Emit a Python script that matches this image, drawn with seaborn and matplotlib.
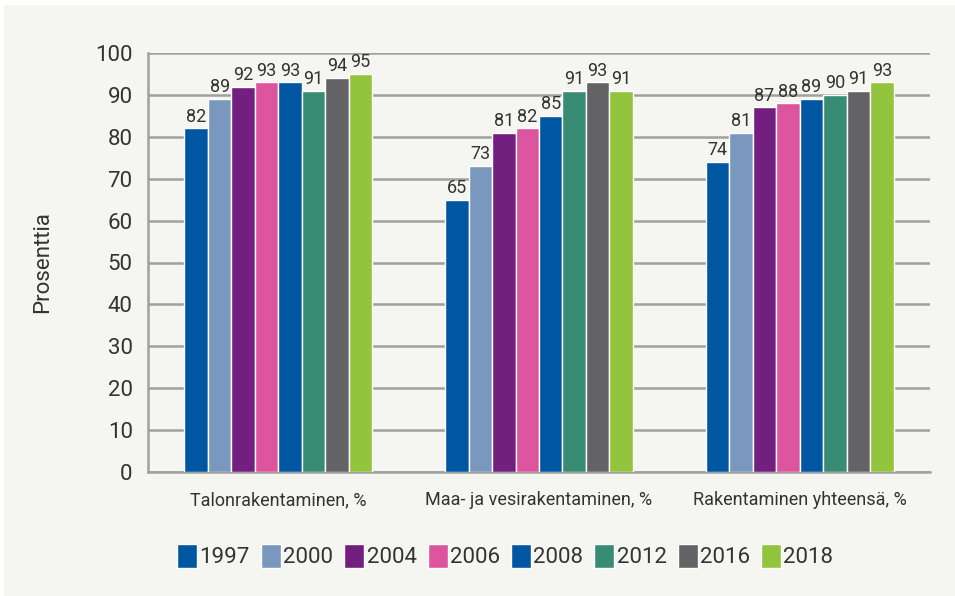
import numpy as np
import pandas as pd
import matplotlib
matplotlib.use("Agg")
import matplotlib.pyplot as plt
import seaborn as sns
from matplotlib.patches import Rectangle

# data
categories = ["Talonrakentaminen, %", "Maa- ja vesirakentaminen, %", "Rakentaminen yhteensä, %"]
years = ["1997", "2000", "2004", "2006", "2008", "2012", "2016", "2018"]
talo = [82, 89, 92, 93, 93, 91, 94, 95]
maa_vesi = [65, 73, 81, 82, 85, 91, 93, 91]
yhteensa = [74, 81, 87, 88, 89, 90, 91, 93]
colors = ["#0056a0", "#7a98bd", "#721f80", "#dd559f", "#0056a0", "#388c74", "#636366", "#93c43e"]

rows = []
for cat, vals in zip(categories, [talo, maa_vesi, yhteensa]):
    for y, v in zip(years, vals):
        rows.append({"Kategoria": cat, "Vuosi": y, "Arvo": v})
df = pd.DataFrame(rows)

sns.set_theme(style="white")
plt.rcParams["font.family"] = ["Roboto", "DejaVu Sans"]
bg = "#f5f5f1"
grid_c = "#a0a0a0"
text_c = "#333333"

fig = plt.figure(figsize=(9.55, 5.96), dpi=100, facecolor="white")
fig.patches.append(Rectangle((4 / 955, 0), 1, 1 - 5 / 596, transform=fig.transFigure,
                             facecolor=bg, edgecolor="none", zorder=-10))
ax = fig.add_axes([148 / 955, 1 - 472 / 596, (930 - 148) / 955, (472 - 53) / 596])
ax.set_facecolor(bg)

sns.barplot(data=df, x="Kategoria", y="Arvo", hue="Vuosi", hue_order=years,
            palette=colors, width=0.72, gap=0, saturation=1, ax=ax, zorder=3)

for cont in ax.containers:
    ax.bar_label(cont, fmt="%d", padding=2, fontsize=13, color=text_c)

ax.set_ylim(0, 100)
ax.set_xlim(-0.5, 2.5)
ax.set_yticks(np.arange(0, 101, 10))
ax.yaxis.grid(True, color=grid_c, linewidth=1.8, zorder=0)
ax.tick_params(axis="y", length=8, width=1.8, color=grid_c, labelsize=16, labelcolor=text_c, pad=3)
ax.tick_params(axis="x", which="major", length=0, labelsize=13, labelcolor=text_c, pad=14)
ax.set_xticks([-0.5, 0.5, 1.5, 2.5], minor=True)
ax.tick_params(axis="x", which="minor", length=9, width=1.8, color=grid_c)

for s in ["top", "right"]:
    ax.spines[s].set_visible(False)
for s in ["left", "bottom"]:
    ax.spines[s].set_color(grid_c)
    ax.spines[s].set_linewidth(1.8)

ax.set_xlabel("")
ax.set_ylabel("Prosenttia", fontsize=16, color=text_c, labelpad=30)

handles, labels = ax.get_legend_handles_labels()
ax.legend(handles, labels, loc="center", bbox_to_anchor=(0.457, -0.2), ncol=8,
          frameon=False, fontsize=16, handlelength=0.9, handleheight=1.3,
          handletextpad=0.1, columnspacing=0.5, labelcolor=text_c)

fig.savefig("out.png", dpi=100, facecolor=fig.get_facecolor())
